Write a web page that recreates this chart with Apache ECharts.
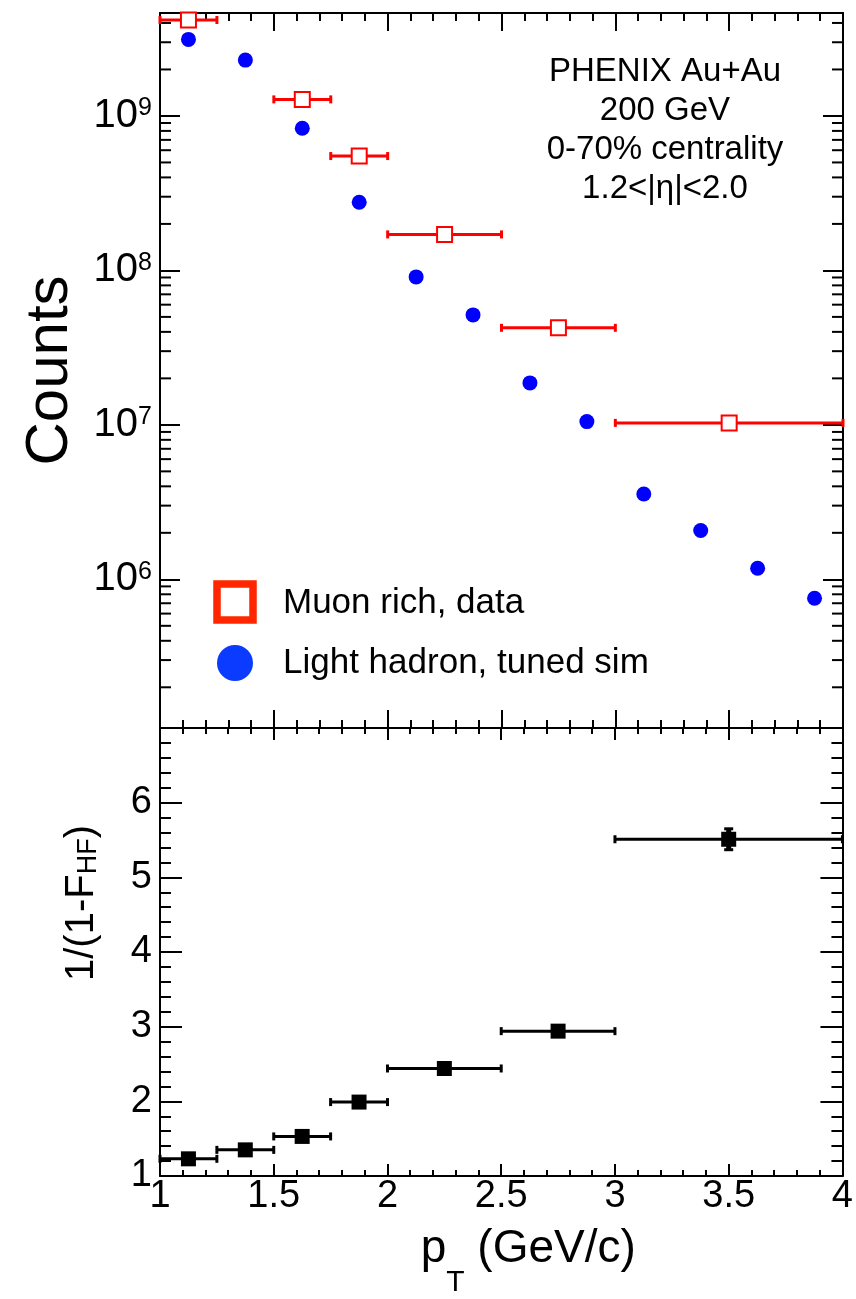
<!DOCTYPE html>
<html>
<head>
<meta charset="utf-8">
<script src="https://cdn.jsdelivr.net/npm/echarts@6/dist/echarts.min.js"></script>
<style>
  html, body { margin: 0; padding: 0; background: #fff; }
  #chart { width: 856px; height: 1299px; }
</style>
</head>
<body>
<div id="chart"></div>
<script>
// ---- data ----
const muonX = [1.125, 1.625, 1.875, 2.25, 2.75, 3.5]
const muonLo = [1.0, 1.5, 1.75, 2.0, 2.5, 3.0]
const muonHi = [1.25, 1.75, 2.0, 2.5, 3.0, 4.0]
const muonCounts = [4.18e9, 1.28e9, 5.5e8, 1.71e8, 4.25e7, 1.03e7]

const hadronX = [1.125, 1.375, 1.625, 1.875, 2.125, 2.375, 2.625, 2.875, 3.125, 3.375, 3.625, 3.875]
const hadronCounts = [3.13e9, 2.3e9, 8.32e8, 2.76e8, 9.08e7, 5.15e7, 1.87e7, 1.05e7, 3.57e6, 2.07e6, 1.18e6, 7.54e5]

const ratioX = [1.125, 1.375, 1.625, 1.875, 2.25, 2.75, 3.5]
const ratioLo = [1.0, 1.25, 1.5, 1.75, 2.0, 2.5, 3.0]
const ratioHi = [1.25, 1.5, 1.75, 2.0, 2.5, 3.0, 4.0]
const ratioVal = [1.23, 1.35, 1.53, 1.99, 2.44, 2.94, 5.51]
const ratioErr = [0.02, 0.02, 0.03, 0.03, 0.04, 0.05, 0.14]

const countsMin = 1.09e5
const countsMax = 4.64e9
const legendNames = ['Muon rich, data', 'Light hadron, tuned sim']
const annotation = ['PHENIX Au+Au', '200 GeV', '0-70% centrality', '1.2<|η|<2.0']

const SANS = "'Liberation Sans', Arial, Helvetica, sans-serif"
const INK = '#000'

// log minor ticks (2..9 x 10^n) inside the range, drawn on both sides of the top frame
const logMinor = []
for (let e = 5; e <= 9; e++) {
  for (let k = 2; k <= 9; k++) {
    const v = k * Math.pow(10, e)
    if (v > countsMin && v < countsMax) logMinor.push([1, v])
  }
}

const chart = echarts.init(document.getElementById('chart'))

// horizontal bin-width bars with end caps, optional vertical error in dim 4
const errorBars = (color, capH) => (params, api) => {
  const y = api.value(1)
  const lo = api.coord([api.value(2), y])
  const hi = api.coord([api.value(3), y])
  const st = { stroke: color, lineWidth: 3 }
  const kids = [
    { type: 'line', shape: { x1: lo[0], y1: lo[1], x2: hi[0], y2: hi[1] }, style: st },
    { type: 'line', shape: { x1: lo[0], y1: lo[1] - capH / 2, x2: lo[0], y2: lo[1] + capH / 2 }, style: st },
    { type: 'line', shape: { x1: hi[0], y1: hi[1] - capH / 2, x2: hi[0], y2: hi[1] + capH / 2 }, style: st }
  ]
  const err = api.value(4)
  if (err > 0) {
    const top = api.coord([api.value(0), y + err])
    const bot = api.coord([api.value(0), y - err])
    kids.push({ type: 'line', shape: { x1: top[0], y1: top[1], x2: bot[0], y2: bot[1] }, style: { stroke: color, lineWidth: 5 } })
    kids.push({ type: 'line', shape: { x1: top[0] - 4.5, y1: top[1], x2: top[0] + 4.5, y2: top[1] }, style: st })
    kids.push({ type: 'line', shape: { x1: bot[0] - 4.5, y1: bot[1], x2: bot[0] + 4.5, y2: bot[1] }, style: st })
  }
  return { type: 'group', children: kids }
}

const xBase = (grid, pos, tickLen, minorLen, labels) => ({
  type: 'value',
  gridIndex: grid,
  position: pos,
  min: 1,
  max: 4,
  interval: 0.5,
  axisLine: { onZero: false, lineStyle: { color: INK, width: 2 } },
  axisTick: { inside: true, length: tickLen, lineStyle: { color: INK, width: 2 } },
  minorTick: { show: true, splitNumber: 5, length: minorLen, lineStyle: { color: INK, width: 2 } },
  splitLine: { show: false },
  minorSplitLine: { show: false },
  axisLabel: labels
    ? { show: true, margin: 2, color: INK, fontSize: 38, fontFamily: SANS }
    : { show: false }
})

const logLabel = (v) => {
  const e = Math.log10(v)
  const r = Math.round(e)
  if (Math.abs(e - r) > 1e-6) return ''
  return '{b|10}{sup|' + r + '}'
}

const option = {
  animation: false,
  backgroundColor: '#fff',
  grid: [
    { left: 160, top: 13, width: 683, height: 715 },
    { left: 160, top: 728, width: 683, height: 449 }
  ],
  xAxis: [
    xBase(0, 'bottom', 18, 8, false),
    xBase(0, 'top', 18, 8, false),
    Object.assign(xBase(1, 'bottom', 12, 6, true), {
      name: '{a|p}{sub|T}{a| (GeV/c)}',
      nameLocation: 'middle',
      nameGap: 50,
      nameTextStyle: {
        padding: [0, 0, 0, 54],
        rich: {
          a: { fontSize: 46, fontFamily: SANS, color: INK, lineHeight: 52, verticalAlign: 'top' },
          sub: { fontSize: 30, fontFamily: SANS, color: INK, lineHeight: 30, padding: [42, 0, 0, 0], verticalAlign: 'top' }
        }
      }
    }),
    xBase(1, 'top', 12, 6, false)
  ],
  yAxis: [
    {
      type: 'log',
      gridIndex: 0,
      position: 'left',
      min: countsMin,
      max: countsMax,
      axisLine: { onZero: false, lineStyle: { color: INK, width: 2 } },
      axisTick: { inside: true, length: 20, lineStyle: { color: INK, width: 2 } },
      splitLine: { show: false },
      axisLabel: {
        margin: 8,
        formatter: logLabel,
        rich: {
          b: { fontSize: 40, fontFamily: SANS, color: INK, lineHeight: 40, verticalAlign: 'bottom' },
          sup: { fontSize: 25, fontFamily: SANS, color: INK, lineHeight: 25, padding: [0, 0, 20, 0], verticalAlign: 'top' }
        }
      },
      name: 'Counts',
      nameLocation: 'middle',
      nameGap: 80,
      nameRotate: 90,
      nameTextStyle: { fontSize: 60, fontFamily: SANS, color: INK }
    },
    {
      type: 'log',
      gridIndex: 0,
      position: 'right',
      min: countsMin,
      max: countsMax,
      axisLine: { onZero: false, lineStyle: { color: INK, width: 2 } },
      axisTick: { inside: true, length: 20, lineStyle: { color: INK, width: 2 } },
      splitLine: { show: false },
      axisLabel: { show: false }
    },
    {
      type: 'value',
      gridIndex: 1,
      position: 'left',
      min: 1,
      max: 7,
      interval: 1,
      axisLine: { onZero: false, lineStyle: { color: INK, width: 2 } },
      axisTick: { inside: true, length: 22, lineStyle: { color: INK, width: 2 } },
      minorTick: { show: true, splitNumber: 5, length: 11, lineStyle: { color: INK, width: 2 } },
      splitLine: { show: false },
      axisLabel: {
        margin: 8,
        color: INK,
        fontSize: 38,
        fontFamily: SANS,
        formatter: (v) => (v >= 7 ? '' : String(v))
      },
      name: '1/(1-F{sub|HF})',
      nameLocation: 'middle',
      nameGap: 58,
      nameRotate: 90,
      nameTextStyle: {
        fontSize: 40,
        fontFamily: SANS,
        color: INK,
        padding: [0, 0, 0, 98],
        rich: {
          sub: { fontSize: 27, fontFamily: SANS, color: INK, padding: [14, 0, 0, 0] }
        }
      }
    },
    {
      type: 'value',
      gridIndex: 1,
      position: 'right',
      min: 1,
      max: 7,
      interval: 1,
      axisLine: { onZero: false, lineStyle: { color: INK, width: 2 } },
      axisTick: { inside: true, length: 22, lineStyle: { color: INK, width: 2 } },
      minorTick: { show: true, splitNumber: 5, length: 11, lineStyle: { color: INK, width: 2 } },
      splitLine: { show: false },
      axisLabel: { show: false }
    }
  ],
  series: [
    {
      type: 'custom',
      name: 'log minor ticks',
      xAxisIndex: 0,
      yAxisIndex: 0,
      silent: true,
      data: logMinor,
      encode: { x: 0, y: 1 },
      renderItem: (params, api) => {
        const l = api.coord([1, api.value(1)])
        const r = api.coord([4, api.value(1)])
        const st = { stroke: INK, lineWidth: 2 }
        return {
          type: 'group',
          children: [
            { type: 'line', shape: { x1: l[0], y1: l[1], x2: l[0] + 11, y2: l[1] }, style: st },
            { type: 'line', shape: { x1: r[0] - 11, y1: r[1], x2: r[0], y2: r[1] }, style: st }
          ]
        }
      }
    },
    {
      type: 'custom',
      name: legendNames[0] + ' bins',
      xAxisIndex: 0,
      yAxisIndex: 0,
      silent: true,
      encode: { x: 0, y: 1 },
      data: muonX.map((x, i) => [x, muonCounts[i], muonLo[i], muonHi[i], 0]),
      renderItem: errorBars('#ff0000', 8)
    },
    {
      type: 'scatter',
      name: legendNames[0],
      xAxisIndex: 0,
      yAxisIndex: 0,
      clip: false,
      symbol: 'rect',
      symbolSize: 15,
      itemStyle: { color: '#fff', borderColor: '#ff0000', borderWidth: 2, opacity: 1 },
      data: muonX.map((x, i) => [x, muonCounts[i]]),
      z: 5
    },
    {
      type: 'scatter',
      name: legendNames[1],
      xAxisIndex: 0,
      yAxisIndex: 0,
      clip: false,
      symbol: 'circle',
      symbolSize: 15,
      itemStyle: { color: '#0000ff', opacity: 1 },
      data: hadronX.map((x, i) => [x, hadronCounts[i]]),
      z: 4
    },
    {
      type: 'custom',
      name: 'ratio bins',
      xAxisIndex: 2,
      yAxisIndex: 2,
      silent: true,
      encode: { x: 0, y: 1 },
      data: ratioX.map((x, i) => [x, ratioVal[i], ratioLo[i], ratioHi[i], ratioErr[i]]),
      renderItem: errorBars(INK, 8)
    },
    {
      type: 'scatter',
      name: 'ratio',
      xAxisIndex: 2,
      yAxisIndex: 2,
      clip: false,
      symbol: 'rect',
      symbolSize: 15,
      itemStyle: { color: INK, opacity: 1 },
      data: ratioX.map((x, i) => [x, ratioVal[i]]),
      z: 5
    }
  ],
  graphic: [
    // legend
    { type: 'rect', shape: { x: 217, y: 584, width: 36, height: 36 }, style: { fill: '#fff', stroke: '#ff2600', lineWidth: 7.5 }, z: 10 },
    { type: 'circle', shape: { cx: 235, cy: 663, r: 18 }, style: { fill: '#0b3bff' }, z: 10 },
    { type: 'text', x: 283, y: 603, style: { text: legendNames[0], fontSize: 35, fontFamily: SANS, fill: INK, verticalAlign: 'middle' }, z: 10 },
    { type: 'text', x: 283, y: 663, style: { text: legendNames[1], fontSize: 35, fontFamily: SANS, fill: INK, verticalAlign: 'middle' }, z: 10 },
    // annotation
    ...annotation.map((t, i) => ({
      type: 'text',
      x: 665,
      y: 72 + i * 39,
      style: { text: t, fontSize: 33, fontFamily: SANS, fill: INK, align: 'center', verticalAlign: 'middle' },
      z: 10
    }))
  ]
}

chart.setOption(option)
</script>
</body>
</html>
